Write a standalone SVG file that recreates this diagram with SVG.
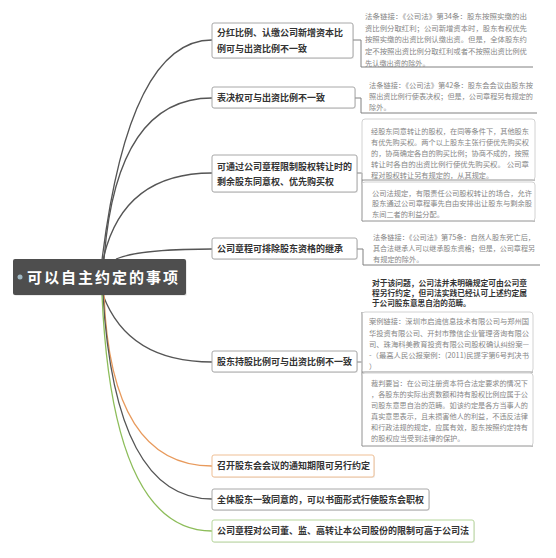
<svg xmlns="http://www.w3.org/2000/svg" width="556" height="558" viewBox="0 0 556 558">
<style>
.node rect.b{fill:#fff;stroke:#a8a8a8;stroke-width:1}
.sh{fill:#000;opacity:0.08}
.nt{font-family:"Noto Sans CJK SC","Noto Sans",sans-serif;font-size:9px;font-weight:bold;fill:#333}
.note{font-family:"Noto Sans CJK SC","Noto Sans",sans-serif;font-size:7.2px;fill:#858585}
.noteb{font-family:"Noto Sans CJK SC","Noto Sans",sans-serif;font-size:7.6px;font-weight:bold;fill:#333}
.cv{fill:none;stroke:#555;stroke-width:1.3}
.el{fill:none;stroke:#808080;stroke-width:1}
.nb{fill:none;stroke:#d2d2d2;stroke-width:1}
</style>
<rect width="556" height="558" fill="#fff"/>

<g id="connectors">
  <path class="cv" d="M102,260 Q129,40 212,40"/>
  <path class="cv" d="M104,260 Q116,98 212,98"/>
  <path class="cv" d="M103,260 Q122,173 212,173"/>
  <path class="cv" d="M116,259 Q140,249 212,249"/>
  <path class="cv" d="M103,295 Q128,362 212,362"/>
  <path class="cv" d="M104,295 Q110.5,466 212,466" style="stroke:#e89a5c"/>
  <path class="cv" d="M103,295 Q115,499 212,499"/>
  <path class="cv" d="M102,295 Q112.5,531 212,531" style="stroke:#8dbd5a"/>
  <path class="el" d="M353,40 H361 V67 H533"/>
  <path class="el" d="M355,98 H361 V113 H537"/>
  <path class="el" d="M357,173 H362 V221 H535"/>
  <path class="el" d="M362,180 H535"/>
  <path class="el" d="M357,249 H363 V265 H540"/>
  <path class="el" d="M357,362 H362"/>
  <path class="el" d="M362,312 V446 H533"/>
  <path class="el" d="M362,372 H533"/>
</g>

<g id="root">
  <rect x="14" y="260" width="173" height="36" rx="2" class="sh"/>
  <rect x="13" y="259" width="173" height="36" rx="2" fill="#4e4e4e"/>
  <circle cx="20" cy="277" r="2.5" fill="#9fb8c4"/>
  <text x="27" y="282.5" font-family="'Noto Sans CJK SC','Noto Sans',sans-serif" font-size="15" font-weight="bold" letter-spacing="2" fill="#fff">可以自主约定的事项</text>
</g>

<g id="n1" class="node">
  <rect x="213" y="24" width="141" height="35" rx="2" class="sh"/>
  <rect x="212" y="23" width="141" height="35" rx="2" class="b"/>
  <text class="nt" x="217" y="36.3">分红比例、认缴公司新增资本比</text>
  <text class="nt" x="217" y="52.3">例可与出资比例不一致</text>
</g>
<g id="n2" class="node">
  <rect x="213" y="88" width="143" height="21" rx="2" class="sh"/>
  <rect x="212" y="87" width="143" height="21" rx="2" class="b"/>
  <text class="nt" x="217" y="101.3">表决权可与出资比例不一致</text>
</g>
<g id="n3" class="node">
  <rect x="213" y="156" width="145" height="37" rx="2" class="sh"/>
  <rect x="212" y="155" width="145" height="37" rx="2" class="b"/>
  <text class="nt" x="217" y="170.3">可通过公司章程限制股权转让时的</text>
  <text class="nt" x="217" y="185.3">剩余股东同意权、优先购买权</text>
</g>
<g id="n4" class="node">
  <rect x="213" y="239" width="145" height="21" rx="2" class="sh"/>
  <rect x="212" y="238" width="145" height="21" rx="2" class="b"/>
  <text class="nt" x="217" y="252.3">公司章程可排除股东资格的继承</text>
</g>
<g id="n5" class="node">
  <rect x="213" y="352" width="145" height="21" rx="2" class="sh"/>
  <rect x="212" y="351" width="145" height="21" rx="2" class="b"/>
  <text class="nt" x="217" y="365.3">股东持股比例可与出资比例不一致</text>
</g>
<g id="n6" class="node">
  <rect x="213" y="456" width="162" height="22" rx="2" class="sh"/>
  <rect x="212" y="455" width="162" height="22" rx="2" class="b" style="stroke:#efbf95"/>
  <text class="nt" x="217" y="469.3">召开股东会会议的通知期限可另行约定</text>
</g>
<g id="n7" class="node">
  <rect x="213" y="490" width="217" height="21" rx="2" class="sh"/>
  <rect x="212" y="489" width="217" height="21" rx="2" class="b"/>
  <text class="nt" x="217" y="503">全体股东一致同意的，可以书面形式行使股东会职权</text>
</g>
<g id="n8" class="node">
  <rect x="213" y="521" width="262" height="22" rx="2" class="sh"/>
  <rect x="212" y="520" width="262" height="22" rx="2" class="b" style="stroke:#b7d79c"/>
  <text class="nt" x="217" y="534.3">公司章程对公司董、监、高转让本公司股份的限制可高于公司法</text>
</g>

<g id="note1">
  <text class="note" x="365" y="18.8" textLength="162" lengthAdjust="spacingAndGlyphs">法条链接：《公司法》第34条：股东按照实缴的出</text>
  <text class="note" x="365" y="30.6" textLength="162" lengthAdjust="spacingAndGlyphs">资比例分取红利；公司新增资本时，股东有权优先</text>
  <text class="note" x="365" y="42.4" textLength="162" lengthAdjust="spacingAndGlyphs">按照实缴的出资比例认缴出资。但是，全体股东约</text>
  <text class="note" x="365" y="54.2" textLength="162" lengthAdjust="spacingAndGlyphs">定不按照出资比例分取红利或者不按照出资比例优</text>
  <text class="note" x="365" y="66">先认缴出资的除外。</text>
</g>
<g id="note2">
  <text class="note" x="369" y="87.6" textLength="164" lengthAdjust="spacingAndGlyphs">法条链接：《公司法》第42条：股东会会议由股东按</text>
  <text class="note" x="369" y="98.8" textLength="164" lengthAdjust="spacingAndGlyphs">照出资比例行使表决权；但是，公司章程另有规定的</text>
  <text class="note" x="369" y="110">除外。</text>
</g>
<g id="note3a">
  <rect class="nb" x="362" y="119" width="173" height="61" rx="3"/>
  <text class="note" x="371" y="134" textLength="158" lengthAdjust="spacingAndGlyphs">经股东同意转让的股权，在同等条件下，其他股东</text>
  <text class="note" x="371" y="145" textLength="158" lengthAdjust="spacingAndGlyphs">有优先购买权。两个以上股东主张行使优先购买权</text>
  <text class="note" x="371" y="156" textLength="158" lengthAdjust="spacingAndGlyphs">的，协商确定各自的购买比例；协商不成的，按照</text>
  <text class="note" x="371" y="167" textLength="158" lengthAdjust="spacingAndGlyphs">转让时各自的出资比例行使优先购买权。 公司章</text>
  <text class="note" x="371" y="177.5">程对股权转让另有规定的，从其规定。</text>
</g>
<g id="note3b">
  <rect class="nb" x="362" y="182" width="173" height="39" rx="3"/>
  <text class="note" x="372" y="195.7" textLength="160" lengthAdjust="spacingAndGlyphs">公司法规定，有限责任公司股权转让的场合，允许</text>
  <text class="note" x="372" y="206.2" textLength="160" lengthAdjust="spacingAndGlyphs">股东通过公司章程事先自由安排出让股东与剩余股</text>
  <text class="note" x="372" y="216.7">东间二者的利益分配。</text>
</g>
<g id="note4">
  <text class="note" x="373" y="239.8" textLength="162" lengthAdjust="spacingAndGlyphs">法条链接：《公司法》第75条：自然人股东死亡后，</text>
  <text class="note" x="373" y="250.8" textLength="162" lengthAdjust="spacingAndGlyphs">其合法继承人可以继承股东资格；但是，公司章程另</text>
  <text class="note" x="373" y="261.8">有规定的除外。</text>
</g>
<g id="note5a">
  <text class="noteb" x="372" y="286" textLength="155" lengthAdjust="spacingAndGlyphs">对于该问题，公司法并未明确规定可由公司章</text>
  <text class="noteb" x="372" y="296" textLength="155" lengthAdjust="spacingAndGlyphs">程另行约定，但司法实践已经认可上述约定属</text>
  <text class="noteb" x="372" y="306">于公司股东意思自治的范畴。</text>
</g>
<g id="note5b">
  <rect class="nb" x="362" y="312" width="171" height="60" rx="3"/>
  <text class="note" x="369" y="324.4" textLength="160" lengthAdjust="spacingAndGlyphs">案例链接：深圳市启迪信息技术有限公司与郑州国</text>
  <text class="note" x="369" y="335.6" textLength="160" lengthAdjust="spacingAndGlyphs">华投资有限公司、开封市豫信企业管理咨询有限公</text>
  <text class="note" x="369" y="346.8" textLength="160" lengthAdjust="spacingAndGlyphs">司、珠海科美教育投资有限公司股权确认纠纷案—</text>
  <text class="note" x="369" y="358" textLength="160" lengthAdjust="spacingAndGlyphs">-（最高人民公报案例：(2011)民提字第6号判决书</text>
  <text class="note" x="369" y="369">）</text>
</g>
<g id="note5c">
  <rect class="nb" x="362" y="373" width="171" height="73" rx="3"/>
  <text class="note" x="371" y="386" textLength="157" lengthAdjust="spacingAndGlyphs">裁判要旨：在公司注册资本符合法定要求的情况下</text>
  <text class="note" x="371" y="397" textLength="157" lengthAdjust="spacingAndGlyphs">，各股东的实际出资数额和持有股权比例应属于公</text>
  <text class="note" x="371" y="408" textLength="157" lengthAdjust="spacingAndGlyphs">司股东意思自治的范畴。如该约定是各方当事人的</text>
  <text class="note" x="371" y="419" textLength="157" lengthAdjust="spacingAndGlyphs">真实意思表示，且未损害他人的利益，不违反法律</text>
  <text class="note" x="371" y="430" textLength="157" lengthAdjust="spacingAndGlyphs">和行政法规的规定，应属有效，股东按照约定持有</text>
  <text class="note" x="371" y="441">的股权应当受到法律的保护。</text>
</g>
</svg>
